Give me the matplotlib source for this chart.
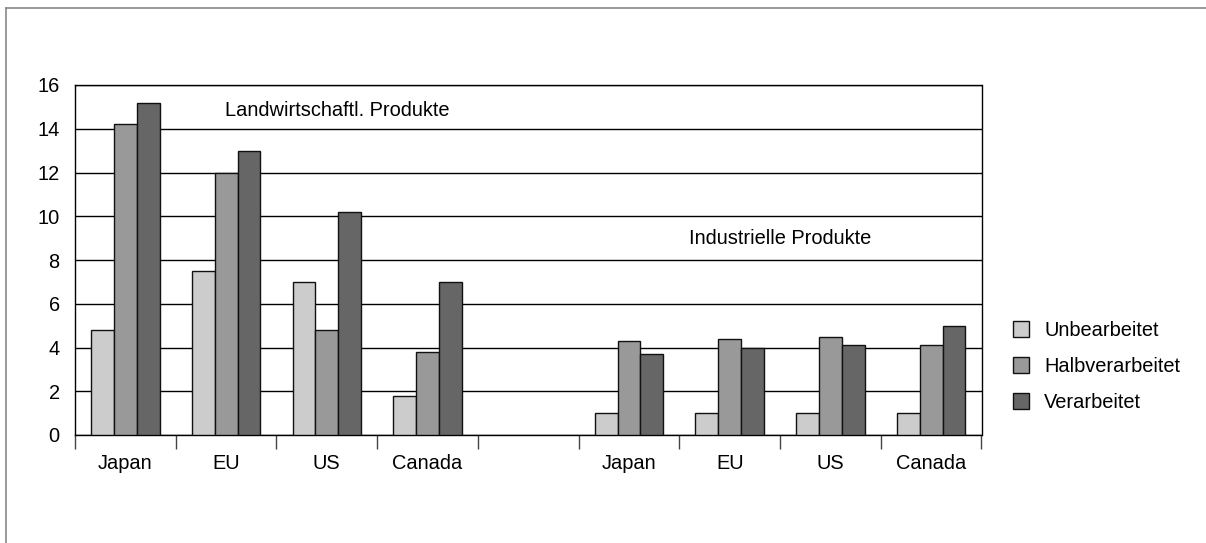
import matplotlib
matplotlib.use("Agg")
import matplotlib.pyplot as plt
import numpy as np
from matplotlib.lines import Line2D

categories = ["Japan", "EU", "US", "Canada", "", "Japan", "EU", "US", "Canada"]
series_names = ["Unbearbeitet", "Halbverarbeitet", "Verarbeitet"]
unbearbeitet = [4.8, 7.5, 7.0, 1.8, np.nan, 1.0, 1.0, 1.0, 1.0]
halbverarbeitet = [14.2, 12.0, 4.8, 3.8, np.nan, 4.3, 4.4, 4.5, 4.1]
verarbeitet = [15.2, 13.0, 10.2, 7.0, np.nan, 3.7, 4.0, 4.1, 5.0]
colors = ["#cccccc", "#999999", "#666666"]
yticks = [0, 2, 4, 6, 8, 10, 12, 14, 16]

plt.rcParams['font.family'] = ['Liberation Sans', 'DejaVu Sans']
FS = 14.4

fig = plt.figure(figsize=(12.06, 5.43), dpi=100)
ax = fig.add_axes([75/1206, 1-435/543, (981.5-75)/1206, (435-85)/543])

x = np.arange(len(categories))
w = 0.227
for i, (vals, name, c) in enumerate(zip([unbearbeitet, halbverarbeitet, verarbeitet], series_names, colors)):
    ax.bar(x + (i-1)*w, vals, width=w, color=c, edgecolor="#111111", linewidth=1.0,
           label=name, zorder=3)

ax.set_xlim(-0.5, len(categories)-0.5)
ax.set_ylim(0, 16)
ax.set_yticks(yticks)
ax.yaxis.grid(True, color="black", linewidth=1.0, zorder=0)
ax.set_axisbelow(True)
ax.tick_params(axis='y', length=0, pad=11, labelsize=FS)
ax.set_xticks(x)
ax.set_xticklabels(categories)
ax.tick_params(axis='x', which='major', length=0, pad=14, labelsize=FS)
ax.set_xticks(np.arange(-0.5, len(categories)), minor=True)
ax.tick_params(axis='x', which='minor', length=10, width=1.0, color="#444444", direction='out')
for s in ax.spines.values():
    s.set_linewidth(1.0)
    s.set_color("black")

ax.text(2.1, 14.85, "Landwirtschaftl. Produkte", ha='center', va='center', fontsize=FS)
ax.text(6.5, 9.0, "Industrielle Produkte", ha='center', va='center', fontsize=FS)

leg = fig.legend(loc='upper left', bbox_to_anchor=(1005/1206, 1-313/543), frameon=False,
                 fontsize=FS, handlelength=0.8, handleheight=0.8, labelspacing=0.85,
                 handletextpad=0.75, borderaxespad=0)

fig.add_artist(Line2D([6/1206, 6/1206], [0, 1-8/543], color="#888888", linewidth=1.2, transform=fig.transFigure))
fig.add_artist(Line2D([6/1206, 1], [1-8/543, 1-8/543], color="#888888", linewidth=1.2, transform=fig.transFigure))

fig.savefig("out.png", dpi=100)
